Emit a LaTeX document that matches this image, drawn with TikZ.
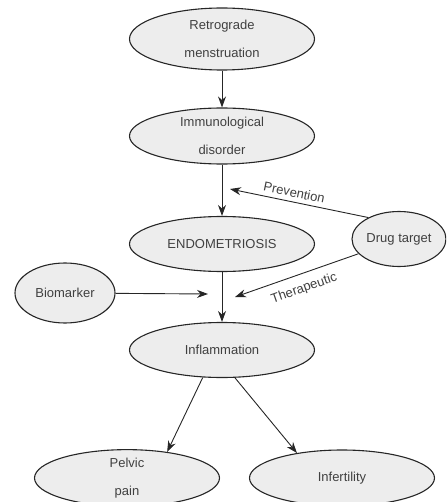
\documentclass[tikz,border=0pt]{standalone}
\usepackage{fontspec}
\setmainfont{Liberation Sans}
\usepackage{xcolor}
\usepackage{tikz}
\usetikzlibrary{shapes.geometric, arrows.meta, positioning}

\begin{document}
\begin{tikzpicture}[x=1pt,y=-1pt,
  blob/.style={ellipse, draw=black!85, line width=1.1pt, fill=black!7, inner sep=0,
    text=black!75, align=center, font=\fontsize{13}{28}\selectfont},
  link/.style={draw=black!85, line width=0.9pt, -{Stealth[length=11pt,width=8pt]}},
  tag/.style={font=\fontsize{13}{15}\selectfont, text=black!75, sloped}]
  \def\bw{185}
  \useasboundingbox (0,0) rectangle (446,502);
  \clip (0,0) rectangle (446,502);
  %% Main chain: cause -> disease -> symptom
  \foreach \nm/\txt/\y/\h in {retro/{Retrograde\\menstruation}/39/62,
      immuno/{Immunological\\disorder}/136/56,
      endo/ENDOMETRIOSIS/244/55,
      infl/Inflammation/350/55}{
    \node[blob, minimum width=\bw pt, minimum height=\h pt] (\nm) at (222,\y) {\txt};
  }
  %% Side nodes
  \node[blob, minimum width=100pt, minimum height=60pt] (bio) at (65,293) {Biomarker};
  \node[blob, minimum width=94pt, minimum height=55pt] (drug) at (399,239) {Drug target};
  %% Outcomes
  \node[blob, minimum width=\bw pt, minimum height=56pt] (pelvic) at (127,478) {Pelvic\\pain};
  \node[blob, minimum width=\bw pt, minimum height=56pt] (infert) at (342,478) {Infertility};
  %% Free arrow ends
  \coordinate (prevEnd) at (230,189);
  \coordinate (therEnd) at (235,297);
  \coordinate (bioEnd) at (208,294);
  %% Connectors
  \draw[link] (retro) -- (immuno);
  \draw[link] (immuno) -- (endo);
  \draw[link] (endo) -- (infl);
  \draw[link] (bio) -- (bioEnd);
  \draw[link] (drug.145) -- node[tag, above=1pt, pos=0.55] {Prevention} (prevEnd);
  \draw[link] (drug.200) -- node[tag, below=5pt, pos=0.48] {Therapeutic} (therEnd);
  \draw[link] (infl.-125) -- (pelvic.33);
  \draw[link] (infl.-65) -- (infert.151);
\end{tikzpicture}
\end{document}
